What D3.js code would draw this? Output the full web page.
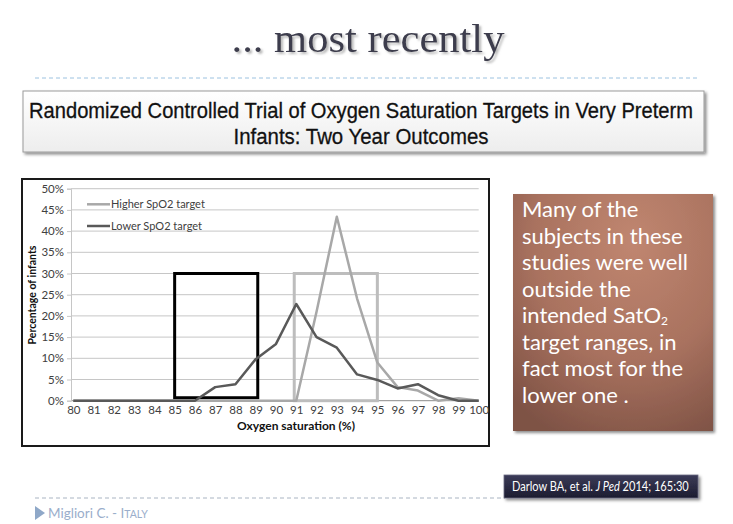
<!DOCTYPE html>
<html>

<head>
    <script src="https://d3js.org/d3.v7.min.js"></script>
    <meta charset="utf-8">
    <style>
        body { margin: 0; background: #fff; }
    </style>
</head>

<body>
    <script>
        // values
        var satLevels = [80, 81, 82, 83, 84, 85, 86, 87, 88, 89, 90, 91, 92, 93, 94, 95, 96, 97, 98, 99, 100];
        var higherTarget = [0, 0, 0, 0, 0, 0, 0, 0, 0, 0, 0, 0, 21, 43.4, 24.1, 9, 3.2, 2.4, 0, 0.6, 0];
        var lowerTarget = [0, 0, 0, 0, 0, 0, 0, 3.2, 3.9, 9.8, 13.4, 22.8, 15, 12.5, 6.2, 4.9, 2.9, 3.9, 1.3, 0, 0];
        var yTicks = [0, 5, 10, 15, 20, 25, 30, 35, 40, 45, 50];
        var seriesNames = ["Higher SpO2 target", "Lower SpO2 target"];
        // intended target ranges (saturation from/to, percent from/to)
        var lowerRange = [85, 89.1, 0.7, 30];
        var higherRange = [90.9, 95, 0, 30];
        var noteLines = ["Many of the", "subjects in these", "studies were well", "outside the", "intended SatO", "target ranges, in", "fact most for the", "lower one ."];

        var width = 733;
        var height = 524;

        var svg = d3.select("body")
            .append("svg")
            .attr("width", width)
            .attr("height", height);

        var defs = svg.append("defs");

        var shadow = defs.append("filter").attr("id", "shadow")
            .attr("x", "-10%").attr("y", "-10%").attr("width", "130%").attr("height", "140%");
        shadow.append("feDropShadow").attr("dx", 2).attr("dy", 2).attr("stdDeviation", 1.5)
            .attr("flood-color", "#000").attr("flood-opacity", 0.45);

        var titleShadow = defs.append("filter").attr("id", "titleShadow");
        titleShadow.append("feDropShadow").attr("dx", 2).attr("dy", 2).attr("stdDeviation", 1)
            .attr("flood-color", "#999").attr("flood-opacity", 0.7);

        var headGrad = defs.append("linearGradient").attr("id", "headGrad")
            .attr("x1", 0).attr("y1", 0).attr("x2", 0).attr("y2", 1);
        headGrad.append("stop").attr("offset", "0%").attr("stop-color", "#ffffff");
        headGrad.append("stop").attr("offset", "100%").attr("stop-color", "#ededed");

        var noteGrad = defs.append("radialGradient").attr("id", "noteGrad")
            .attr("cx", "60%").attr("cy", "20%").attr("r", "90%");
        noteGrad.append("stop").attr("offset", "0%").attr("stop-color", "#c08670");
        noteGrad.append("stop").attr("offset", "55%").attr("stop-color", "#a9725f");
        noteGrad.append("stop").attr("offset", "100%").attr("stop-color", "#7e5245");

        var citeGrad = defs.append("linearGradient").attr("id", "citeGrad")
            .attr("x1", 0).attr("y1", 0).attr("x2", 0).attr("y2", 1);
        citeGrad.append("stop").attr("offset", "0%").attr("stop-color", "#3b3b58");
        citeGrad.append("stop").attr("offset", "100%").attr("stop-color", "#1c1c30");

        // squeeze a text horizontally to a given width around its anchor point
        function fitWidth(sel, ax, ay, w) {
            var natural = sel.node().getComputedTextLength();
            var k = w / natural;
            sel.attr("x", 0).attr("y", 0)
                .attr("transform", "translate(" + ax + "," + ay + ") scale(" + k + ",1)");
        }

        // slide title
        var title = svg.append("text")
            .attr("text-anchor", "middle")
            .attr("font-family", "'Liberation Serif', 'DejaVu Serif', serif")
            .attr("font-size", 40)
            .attr("fill", "#3d3d4d")
            .attr("filter", "url(#titleShadow)")
            .text("... most recently");
        fitWidth(title, 368, 52, 273);

        svg.append("line")
            .attr("x1", 35).attr("x2", 699).attr("y1", 78).attr("y2", 78)
            .attr("stroke", "#9cc2e0").attr("stroke-width", 1)
            .attr("stroke-dasharray", "4,3");

        // paper title box
        svg.append("rect")
            .attr("x", 23).attr("y", 91).attr("width", 681).attr("height", 61)
            .attr("fill", "url(#headGrad)")
            .attr("stroke", "#9a9a9a").attr("stroke-width", 1)
            .attr("filter", "url(#shadow)");

        var headFont = "'Liberation Sans Narrow', 'Liberation Sans', Arial, sans-serif";
        var head1 = svg.append("text")
            .attr("text-anchor", "middle")
            .attr("font-family", headFont)
            .attr("font-size", 22)
            .attr("fill", "#111")
            .attr("stroke", "#111").attr("stroke-width", 0.3)
            .text("Randomized Controlled Trial of Oxygen Saturation Targets in Very Preterm");
        fitWidth(head1, 361, 118, 664);
        var head2 = svg.append("text")
            .attr("text-anchor", "middle")
            .attr("font-family", headFont)
            .attr("font-size", 22)
            .attr("fill", "#111")
            .attr("stroke", "#111").attr("stroke-width", 0.3)
            .text("Infants: Two Year Outcomes");
        fitWidth(head2, 361, 144, 255);

        // chart frame
        svg.append("rect")
            .attr("x", 22).attr("y", 179).attr("width", 467).attr("height", 267)
            .attr("fill", "#fff")
            .attr("stroke", "#1a1a1a").attr("stroke-width", 2);

        var chartFont = "Lato, 'Open Sans', sans-serif";

        var x = d3.scaleLinear()
            .domain([80, 100])
            .range([73.3, 478.7]);

        var y = d3.scaleLinear()
            .domain([0, 50])
            .range([400.7, 188.7]);

        var plotLeft = 71;

        // gridlines
        svg.append("g")
            .selectAll("line")
            .data(yTicks)
            .enter()
            .append("line")
            .attr("x1", plotLeft).attr("x2", x(100))
            .attr("y1", d => y(d)).attr("y2", d => y(d))
            .attr("stroke", d => d === 0 ? "#8c8c8c" : "#c6c6c6")
            .attr("stroke-width", 1);

        var yAxis = svg.append("g")
            .attr("transform", "translate(" + plotLeft + ",0)")
            .call(d3.axisLeft(y).tickValues(yTicks).tickFormat(d => d + "%").tickSize(4).tickPadding(3));
        yAxis.select(".domain").attr("stroke", "#c6c6c6");
        yAxis.selectAll(".tick line").attr("stroke", "#c6c6c6");
        yAxis.selectAll("text")
            .attr("font-family", chartFont).attr("font-size", 11.5).attr("fill", "#404040");

        var xAxis = svg.append("g")
            .attr("transform", "translate(0," + y(0) + ")")
            .call(d3.axisBottom(x).tickValues(satLevels).tickSize(0).tickPadding(5));
        xAxis.select(".domain").remove();
        xAxis.selectAll("text")
            .attr("font-family", chartFont).attr("font-size", 11.5).attr("fill", "#404040");

        // axis titles
        svg.append("text")
            .attr("transform", "translate(36,295) rotate(-90)")
            .attr("text-anchor", "middle")
            .attr("font-family", chartFont)
            .attr("font-size", 10.5)
            .attr("font-weight", "bold")
            .attr("fill", "#111")
            .text("Percentage of infants");

        svg.append("text")
            .attr("x", 296).attr("y", 430)
            .attr("text-anchor", "middle")
            .attr("font-family", chartFont)
            .attr("font-size", 12)
            .attr("font-weight", "bold")
            .attr("fill", "#111")
            .text("Oxygen saturation (%)");

        // target range boxes
        function rangeBox(r, colour) {
            svg.append("rect")
                .attr("x", x(r[0])).attr("y", y(r[3]))
                .attr("width", x(r[1]) - x(r[0]))
                .attr("height", y(r[2]) - y(r[3]))
                .attr("fill", "none")
                .attr("stroke", colour)
                .attr("stroke-width", 3);
        }
        rangeBox(lowerRange, "#000");
        rangeBox(higherRange, "#bdbdbd");

        // lines
        var line = d3.line()
            .x((d, i) => x(satLevels[i]))
            .y(d => y(d));

        svg.append("path")
            .datum(higherTarget)
            .attr("d", line)
            .attr("fill", "none")
            .attr("stroke", "#a8a8a8")
            .attr("stroke-width", 2.5)
            .attr("stroke-linejoin", "round");

        svg.append("path")
            .datum(lowerTarget)
            .attr("d", line)
            .attr("fill", "none")
            .attr("stroke", "#595959")
            .attr("stroke-width", 2.5)
            .attr("stroke-linejoin", "round");

        // legend
        var legendColours = ["#a8a8a8", "#595959"];
        var legend = svg.append("g")
            .selectAll("g")
            .data(seriesNames)
            .enter()
            .append("g")
            .attr("transform", (d, i) => "translate(87," + (204.3 + i * 21.7) + ")");
        legend.append("line")
            .attr("x1", 0).attr("x2", 23)
            .attr("stroke", (d, i) => legendColours[i])
            .attr("stroke-width", 2.5);
        legend.append("text")
            .attr("x", 24).attr("dy", "0.35em")
            .attr("font-family", chartFont)
            .attr("font-size", 11)
            .attr("fill", "#404040")
            .text(d => d);

        // note box on the right
        svg.append("rect")
            .attr("x", 513).attr("y", 194).attr("width", 200).attr("height", 237)
            .attr("fill", "url(#noteGrad)")
            .attr("filter", "url(#shadow)");

        noteLines.forEach(function (t, i) {
            var tx = svg.append("text")
                .attr("x", 522)
                .attr("y", 217 + i * 26.5)
                .attr("font-family", "Lato, 'Open Sans', sans-serif")
                .attr("font-size", 22)
                .attr("fill", "#fff")
                .text(t);
            if (t === "intended SatO") {
                tx.append("tspan").attr("dy", 2).attr("font-size", 12).text("2");
            }
        });

        // citation
        svg.append("line")
            .attr("x1", 35).attr("x2", 505).attr("y1", 498).attr("y2", 498)
            .attr("stroke", "#a9b4c2").attr("stroke-width", 1)
            .attr("stroke-dasharray", "4,3");

        svg.append("rect")
            .attr("x", 504).attr("y", 475).attr("width", 194).attr("height", 23)
            .attr("fill", "url(#citeGrad)")
            .attr("stroke", "#6a6a80").attr("stroke-width", 0.8)
            .attr("filter", "url(#shadow)");

        var cite = svg.append("text")
            .attr("font-family", "Lato, 'Open Sans', sans-serif")
            .attr("font-size", 13)
            .attr("fill", "#fff");
        cite.append("tspan").text("Darlow BA, et al. ");
        cite.append("tspan").attr("font-style", "italic").text("J Ped");
        cite.append("tspan").text(" 2014; 165:30");
        fitWidth(cite, 512, 491, 177);

        // footer
        svg.append("path")
            .attr("d", "M35,506 L45,513 L35,520 Z")
            .attr("fill", "#8fa8c8");

        var foot = svg.append("text")
            .attr("x", 48).attr("y", 518)
            .attr("font-family", "Lato, 'Open Sans', sans-serif")
            .attr("font-size", 13.5)
            .attr("fill", "#9aaecb");
        foot.append("tspan").text("Migliori C. - I");
        foot.append("tspan").attr("font-size", 10.5).text("TALY");
    </script>
</body>

</html>
